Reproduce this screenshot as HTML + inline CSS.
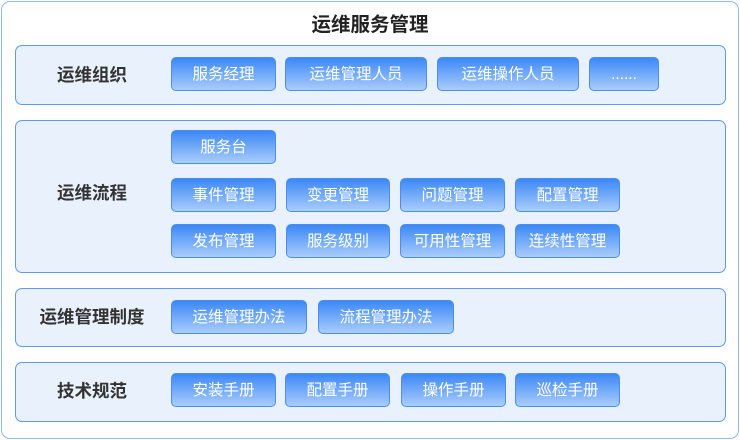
<!DOCTYPE html><html><head><style>
body{margin:0;width:740px;height:440px;background:#fff;font-family:"Liberation Sans","Noto Sans CJK SC",sans-serif;position:relative;overflow:hidden}
.o{position:absolute;left:1px;top:1px;width:736px;height:436px;border:1px solid #8fb8f5;border-radius:9px}
.t{position:absolute;left:0;width:740px;top:8px;text-align:center;font-size:19.5px;font-weight:bold;color:#222}
.p{position:absolute;left:15px;width:709px;background:#e9f1fd;border:1px solid #5c9bf0;border-radius:7px}
.l{position:absolute;left:7px;width:170px;text-align:center;font-size:17.5px;font-weight:bold;color:#333}
.b{position:absolute;height:34px;line-height:34px;text-align:center;color:#fff;font-size:15.5px;border:1px solid #4a8ff0;border-radius:5px;box-sizing:border-box;background:linear-gradient(#3c88f7,#aacdfb)}
</style></head><body>
<div class="o"></div><div class="t">运维服务管理</div>
<div class="p" style="top:45px;height:58px"></div>
<div class="p" style="top:120px;height:151px"></div>
<div class="p" style="top:288px;height:57px"></div>
<div class="p" style="top:362px;height:58px"></div>
<div class="l" style="top:62px">运维组织</div>
<div class="l" style="top:180px">运维流程</div>
<div class="l" style="top:304px">运维管理制度</div>
<div class="l" style="top:378px">技术规范</div>
<div class="b" style="left:171px;top:57px;width:105px">服务经理</div>
<div class="b" style="left:285px;top:57px;width:142px">运维管理人员</div>
<div class="b" style="left:437px;top:57px;width:142px">运维操作人员</div>
<div class="b" style="left:589px;top:57px;width:70px">......</div>
<div class="b" style="left:171px;top:130px;width:105px">服务台</div>
<div class="b" style="left:171px;top:178px;width:105px">事件管理</div>
<div class="b" style="left:286px;top:178px;width:104px">变更管理</div>
<div class="b" style="left:400px;top:178px;width:105px">问题管理</div>
<div class="b" style="left:515px;top:178px;width:105px">配置管理</div>
<div class="b" style="left:171px;top:224px;width:105px">发布管理</div>
<div class="b" style="left:286px;top:224px;width:104px">服务级别</div>
<div class="b" style="left:400px;top:224px;width:105px">可用性管理</div>
<div class="b" style="left:515px;top:224px;width:105px">连续性管理</div>
<div class="b" style="left:171px;top:300px;width:136px">运维管理办法</div>
<div class="b" style="left:318px;top:300px;width:136px">流程管理办法</div>
<div class="b" style="left:171px;top:373px;width:105px">安装手册</div>
<div class="b" style="left:285px;top:373px;width:105px">配置手册</div>
<div class="b" style="left:401px;top:373px;width:105px">操作手册</div>
<div class="b" style="left:515px;top:373px;width:105px">巡检手册</div>
</body></html>
